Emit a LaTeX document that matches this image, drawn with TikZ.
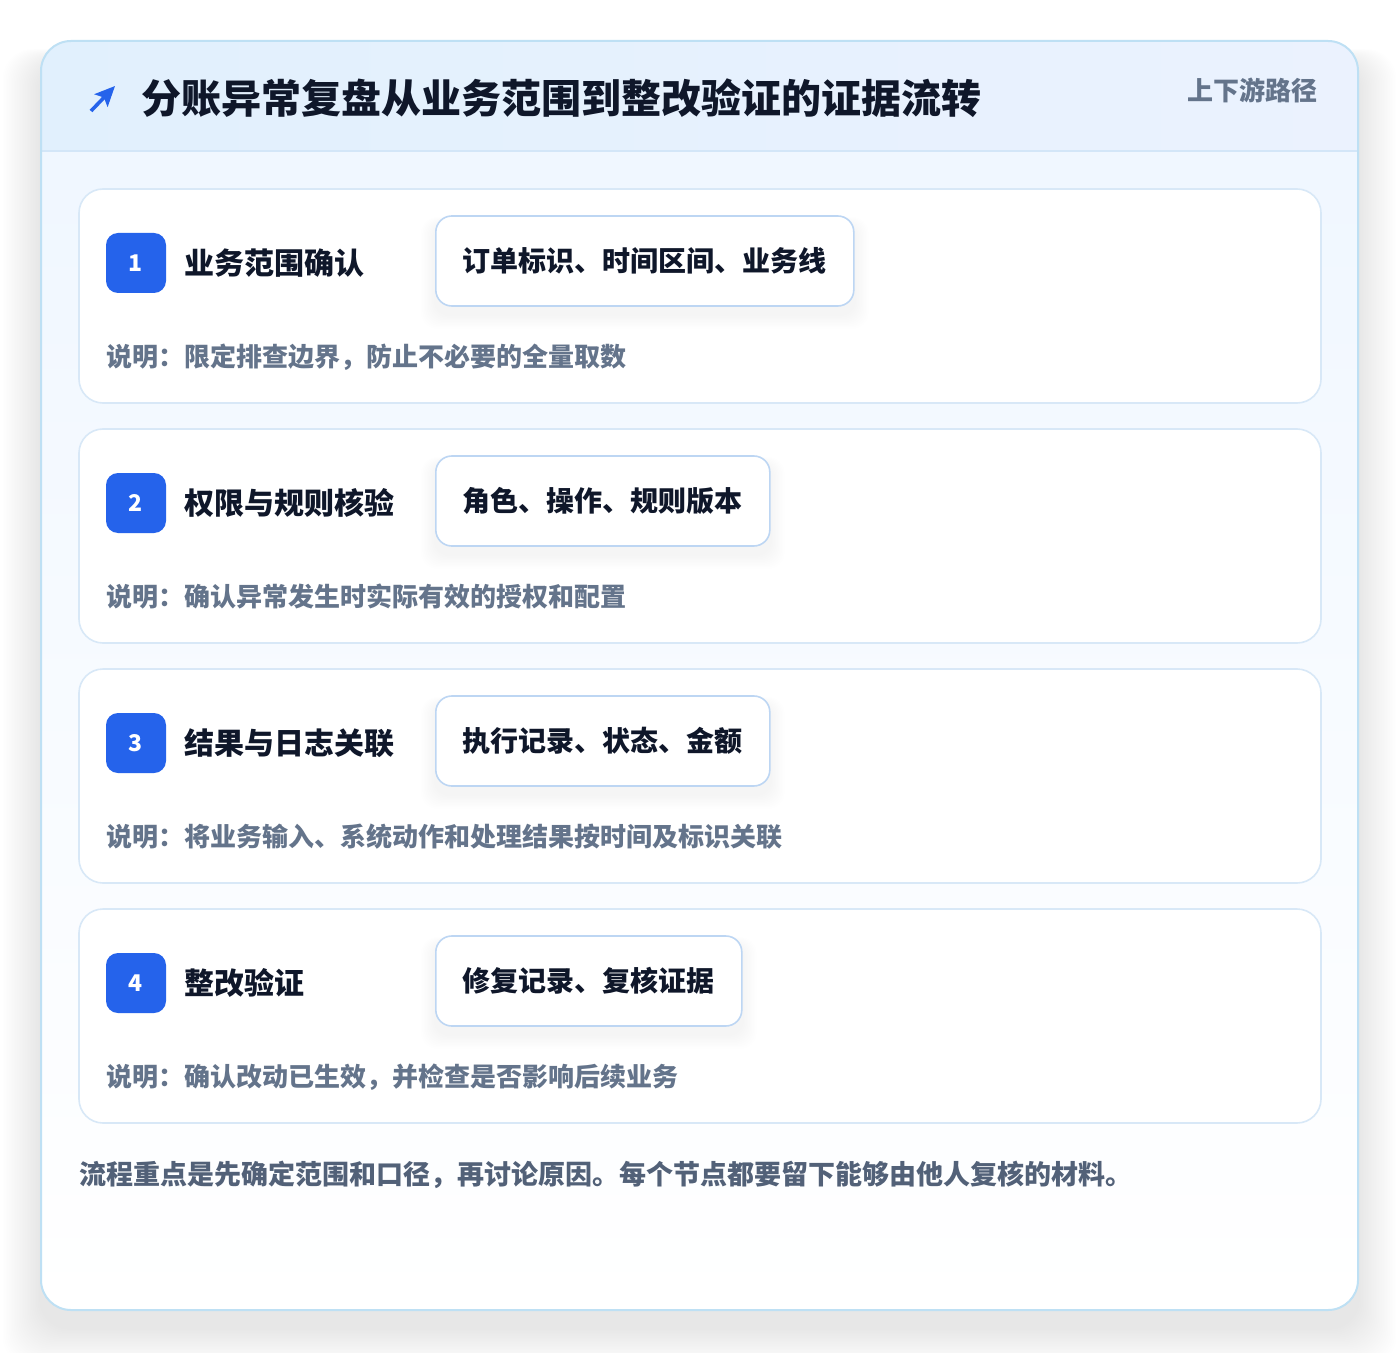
\documentclass[tikz,border=0pt]{standalone}
\usepackage{fontspec}
\setmainfont{Noto Sans CJK SC}
\usetikzlibrary{arrows.meta}

\definecolor{cardline}{HTML}{BEE0F4}
\definecolor{hdA}{HTML}{E1F0FD}
\definecolor{hdB}{HTML}{EBF2FE}
\definecolor{hdline}{HTML}{D3E6F8}
\definecolor{bodyA}{HTML}{F0F7FF}
\definecolor{stepline}{HTML}{D8E8F7}
\definecolor{tagline}{HTML}{BDD6F3}
\definecolor{badgeblue}{HTML}{2563EB}
\definecolor{ink}{HTML}{0F172A}
\definecolor{muted}{HTML}{64748B}
\definecolor{footink}{HTML}{526178}

\tikzset{
  textnode/.style={inner sep=0pt,anchor=west},
  maintitle/.style={textnode,text=ink,font=\fontsize{20pt}{24pt}\selectfont\bfseries},
  hint/.style={inner sep=0pt,anchor=east,text=muted,font=\fontsize{13pt}{16pt}\selectfont\bfseries},
  stepcard/.style={draw=stepline,line width=0.8pt,fill=white,rounded corners=12pt},
  badge/.style={fill=badgeblue,rounded corners=6pt,minimum size=30pt,inner sep=0pt,
    text=white,font=\fontsize{11.5pt}{13pt}\selectfont\bfseries},
  steptitle/.style={textnode,text=ink,font=\fontsize{15pt}{18pt}\selectfont\bfseries},
  tagbox/.style={draw=tagline,line width=0.8pt,fill=white,rounded corners=8pt,anchor=west,
    inner xsep=13.5pt,inner ysep=0pt,minimum height=45pt,text=ink,
    font=\fontsize{14pt}{17pt}\selectfont\bfseries},
  desc/.style={textnode,text=muted,font=\fontsize{13pt}{16pt}\selectfont\bfseries},
  foot/.style={textnode,text=footink,font=\fontsize{13.5pt}{16pt}\selectfont\bfseries}
}

\begin{document}
\begin{tikzpicture}[x=0.5pt,y=-0.5pt]
\useasboundingbox[fill=white] (0,0) rectangle (1400,1352);
% soft shadow of the outer card
\foreach \k in {1,...,24}
  \fill[black,opacity=0.0032,rounded corners=15pt]
    (41-1.6*\k,41+20-0.5*\k) rectangle (1358+1.6*\k,1310+18+1.6*\k);
\begin{scope}
\clip[rounded corners=15pt] (41,41) rectangle (1358,1310);
\shade[top color=bodyA,bottom color=white] (41,151) rectangle (1358,1310);
\shade[left color=hdA,right color=hdB] (41,41) rectangle (1358,151);
\end{scope}
\draw[hdline,line width=0.8pt] (41,151) -- (1358,151);
\draw[cardline,line width=1pt,rounded corners=15pt] (41,41) rectangle (1358,1310);
% header
\draw[badgeblue,line width=1.8pt,-{Stealth[length=10pt,width=9pt,inset=2pt]}] (91,111) -- (115,86);
\node[maintitle] (title) at (141,98) {分账异常复盘从业务范围到整改验证的证据流转};
\node[hint] (hint) at (1318,90) {上下游路径};
% steps
\foreach \i/\ttl/\tg/\dsc in {
  1/业务范围确认/订单标识、时间区间、业务线/说明：限定排查边界，防止不必要的全量取数,
  2/权限与规则核验/角色、操作、规则版本/说明：确认异常发生时实际有效的授权和配置,
  3/结果与日志关联/执行记录、状态、金额/说明：将业务输入、系统动作和处理结果按时间及标识关联,
  4/整改验证/修复记录、复核证据/说明：确认改动已生效，并检查是否影响后续业务}{
  \pgfmathsetmacro\cardtop{189+240*(\i-1)}
  \draw[stepcard] (79,\cardtop) rectangle (1321,\cardtop+214);
  \node[badge] (badge\i) at (136,\cardtop+74) {\i};
  \node[steptitle] (name\i) at (184,\cardtop+74) {\ttl};
  \node[tagbox,draw=none,fill=none] (tagsize\i) at (435,\cardtop+72) {\tg};
  % soft shadow under the tag
  \foreach \s in {1,...,10}
    \fill[black,opacity=0.005,rounded corners=8pt]
      ([xshift=-0.7*\s pt,yshift=-4pt+0.3*\s pt]tagsize\i.north west)
      rectangle ([xshift=0.7*\s pt,yshift=-4pt-0.7*\s pt]tagsize\i.south east);
  \node[tagbox] (tag\i) at (435,\cardtop+72) {\tg};
  \node[desc] (desc\i) at (106,\cardtop+168) {\dsc};
}
% footer
\node[foot] (foot) at (79,1175) {流程重点是先确定范围和口径，再讨论原因。每个节点都要留下能够由他人复核的材料。};
\end{tikzpicture}
\end{document}
